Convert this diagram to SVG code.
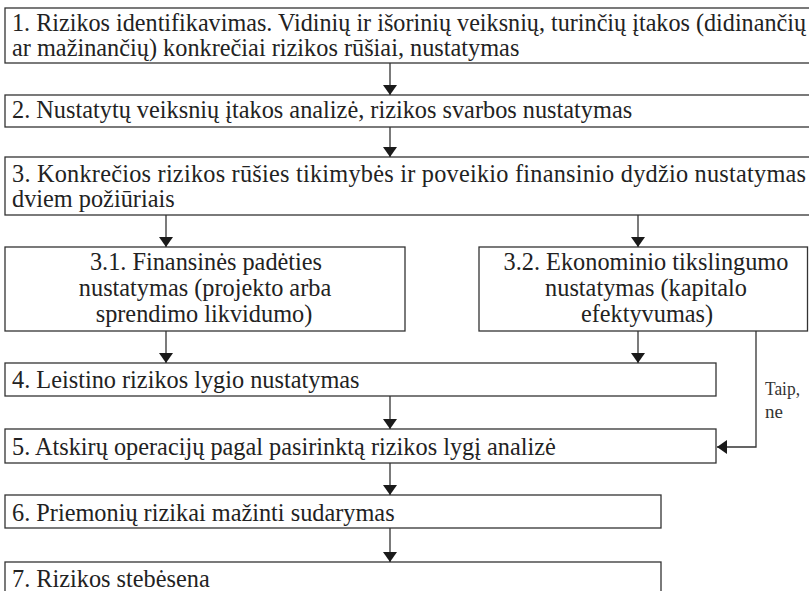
<svg xmlns="http://www.w3.org/2000/svg" width="809" height="591" viewBox="0 0 809 591">
  <style>
    .box { fill: #ffffff; stroke: #333333; stroke-width: 1.3; }
    .t { font-family: "Liberation Serif", "DejaVu Serif", serif; font-size: 24.3px; fill: #222222; }
    .c { text-anchor: middle; }
    .small { font-family: "Liberation Serif", "DejaVu Serif", serif; font-size: 19px; fill: #333333; }
    .link { fill: none; stroke: #333333; stroke-width: 1.3; }
  </style>
  <defs>
    <marker id="arrow" viewBox="0 0 10 14" refX="10" refY="7" markerWidth="10" markerHeight="14" markerUnits="userSpaceOnUse" orient="auto">
      <path d="M0,0 L10,7 L0,14 Z" fill="#1a1a1a"/>
    </marker>
  </defs>
  <rect width="809" height="591" fill="#ffffff"/>

  <g id="node-1">
    <rect class="box" x="5" y="8" width="810" height="55"/>
    <text class="t" x="12" y="31" textLength="794" lengthAdjust="spacingAndGlyphs">1. Rizikos identifikavimas. Vidinių ir išorinių veiksnių, turinčių įtakos (didinančių</text>
    <text class="t" x="12" y="56">ar mažinančių) konkrečiai rizikos rūšiai, nustatymas</text>
  </g>

  <g id="node-2">
    <rect class="box" x="5" y="95" width="810" height="32"/>
    <text class="t" x="12" y="118">2. Nustatytų veiksnių įtakos analizė, rizikos svarbos nustatymas</text>
  </g>

  <g id="node-3">
    <rect class="box" x="5" y="157" width="810" height="58"/>
    <text class="t" x="12" y="182" textLength="794" lengthAdjust="spacing">3. Konkrečios rizikos rūšies tikimybės ir poveikio finansinio dydžio nustatymas</text>
    <text class="t" x="12" y="207">dviem požiūriais</text>
  </g>

  <g id="node-3-1">
    <rect class="box" x="5" y="247" width="400" height="84"/>
    <text class="t c" x="206" y="270">3.1. Finansinės padėties</text>
    <text class="t c" x="205" y="296">nustatymas (projekto arba</text>
    <text class="t c" x="204" y="322">sprendimo likvidumo)</text>
  </g>

  <g id="node-3-2">
    <rect class="box" x="479" y="247" width="328.5" height="84"/>
    <text class="t c" x="646" y="270">3.2. Ekonominio tikslingumo</text>
    <text class="t c" x="646" y="296">nustatymas (kapitalo</text>
    <text class="t c" x="647" y="322">efektyvumas)</text>
  </g>

  <g id="node-4">
    <rect class="box" x="5" y="363" width="711" height="33"/>
    <text class="t" x="12" y="388">4. Leistino rizikos lygio nustatymas</text>
  </g>

  <g id="node-5">
    <rect class="box" x="5" y="429" width="711" height="34"/>
    <text class="t" x="12" y="455">5. Atskirų operacijų pagal pasirinktą rizikos lygį analizė</text>
  </g>

  <g id="node-6">
    <rect class="box" x="5" y="495" width="656" height="33"/>
    <text class="t" x="12" y="521">6. Priemonių rizikai mažinti sudarymas</text>
  </g>

  <g id="node-7">
    <rect class="box" x="5" y="562" width="656" height="40"/>
    <text class="t" x="12" y="587">7. Rizikos stebėsena</text>
  </g>

  <g id="connectors">
    <line class="link" x1="390" y1="63" x2="390" y2="95" marker-end="url(#arrow)"/>
    <line class="link" x1="390" y1="127" x2="390" y2="157" marker-end="url(#arrow)"/>
    <line class="link" x1="166" y1="215" x2="166" y2="247" marker-end="url(#arrow)"/>
    <line class="link" x1="638" y1="215" x2="638" y2="247" marker-end="url(#arrow)"/>
    <line class="link" x1="166" y1="331" x2="166" y2="363" marker-end="url(#arrow)"/>
    <line class="link" x1="638" y1="331" x2="638" y2="363" marker-end="url(#arrow)"/>
    <line class="link" x1="390" y1="396" x2="390" y2="429" marker-end="url(#arrow)"/>
    <polyline class="link" points="756,331 756,447 717,447" marker-end="url(#arrow)"/>
    <line class="link" x1="390" y1="463" x2="390" y2="495" marker-end="url(#arrow)"/>
    <line class="link" x1="390" y1="528" x2="390" y2="562" marker-end="url(#arrow)"/>
    <text class="small" x="765" y="395" textLength="35" lengthAdjust="spacingAndGlyphs">Taip,</text>
    <text class="small" x="765" y="418">ne</text>
  </g>
</svg>
